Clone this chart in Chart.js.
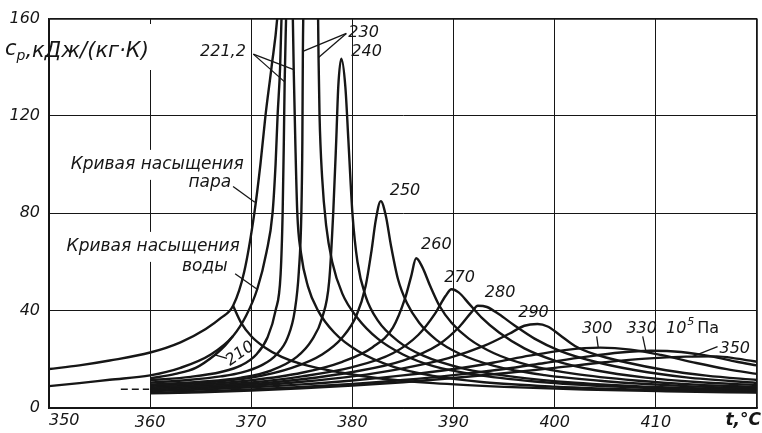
<!DOCTYPE html>
<html lang="ru">
<head>
<meta charset="UTF-8">
<title>Теплоёмкость воды и пара в околокритической области</title>
<script src="https://cdn.jsdelivr.net/npm/chart.js"></script>
<style>
  html, body { margin: 0; padding: 0; background: #fff; }
  #wrap { width: 762px; height: 433px; position: relative; }
</style>
</head>
<body>
<div id="wrap"><canvas id="cpChart"></canvas></div>
<script>
// [t, °C ; cp, кДж/(кг·К)]
const satVapour = [[350,16],[353,17.5],[356,19.5],[360,22.8],[363,27],[365.5,32.5],[367,37],[368.2,42],[369.3,56],[370.3,80],[370.9,100],[371.4,120],[372,140],[372.6,162],[372.9,185]];
const satWater = [[350,9],[353,10.2],[356,11.6],[360,13.4],[363,16.5],[366,22],[368.2,29.6],[369.5,38],[370.6,49],[371.5,64],[372.1,80],[372.4,100],[372.6,120],[372.85,140],[373.0,162],[373.1,185]];
const p210water = [[360,12.2],[362.5,14],[364.5,16.5],[366.4,21.8],[367.4,25.6],[368.2,29.6]];
const p210vapour = [[368.2,42],[369,35],[370,29.5],[371.3,25],[373,21],[375,18],[378.8,14.6],[383,12],[388,10.2],[395,8.7],[403,7.6],[411,6.9],[420,6.3]];
const p221 = [[360,11.4],[364,12.8],[367,14.8],[369,17.5],[370.5,22],[371.6,29],[372.4,40],[372.9,55],[373.1,80],[373.22,110],[373.3,134],[373.45,162],[373.6,190],
              [374.0,190],[374.1,162],[374.2,138],[374.35,110],[374.55,80],[374.9,64],[375.6,50],[376.6,40],[378.2,31],[380.5,23.5],[384,17],[388,13.2],[393,10.6],[400,8.8],[410,7.4],[420,6.6]];
const p230 = [[360,10.4],[364,11.6],[367,13],[369,14.5],[371,17.5],[372.5,22],[373.6,29],[374.3,40],[374.7,56],[374.95,80],[375.05,110],[375.1,146],[375.2,175],[375.3,190],
              [376.5,190],[376.6,162],[376.65,144],[376.75,120],[377.0,95],[377.4,75],[378,60],[379,47],[380.5,37],[382.5,28.5],[385,22],[388,17.2],[392,13.8],[398,10.9],[405,9],[412,7.8],[420,7.0]];
const p240 = [[360,9.6],[365,10.8],[369,12.5],[372,15.5],[374.5,21],[376,28],[377,37],[377.7,52],[378.1,80],[378.4,110],[378.6,132],[378.9,143.5],
              [379.3,132],[379.6,110],[380.0,80],[380.5,60],[381.3,46],[382.5,36],[384.5,27.5],[387,21.5],[391,16.2],[396,12.8],[402,10.4],[410,8.6],[420,7.5]];
const p250 = [[360,9],[365,10.3],[370,12.5],[374,16.5],[377,22],[379,29],[380.4,38],[381.3,50],[381.9,65],[382.3,77],[382.8,85],
              [383.3,79],[383.8,67],[384.5,53],[385.4,43],[386.6,35],[388.3,28],[390.5,22.5],[394,17.3],[399,13.5],[405,11],[412,9.2],[420,8.0]];
const p260 = [[360,8.4],[365,9.6],[370,11.4],[375,14.5],[379,19],[382,25],[384,33],[385.2,45],[385.8,54],[386.3,61.5],
              [386.9,58],[387.7,50],[388.6,42],[389.8,35],[391.5,28.5],[394,22.5],[397.5,17.5],[402,14],[408,11.3],[414,9.6],[420,8.6]];
const p270 = [[360,8],[365,9],[370,10.5],[375,13],[380,16.8],[384,22.5],[386.5,30],[388.2,39],[389.2,46],[389.8,48.8],
              [390.5,47.5],[391.5,43],[392.8,37],[394.5,31],[397,24.5],[400,19.5],[404,15.5],[409,12.5],[414,10.7],[420,9.4]];
const p280 = [[360,7.6],[365,8.5],[370,9.8],[375,11.8],[380,14.8],[385,19.5],[388.5,26],[390.6,33.5],[391.8,39.5],[392.4,42],
              [393.3,41.5],[394.5,38.5],[396,34],[398,28.5],[400.5,23.5],[404,19],[408,15.5],[413,12.6],[420,10.3]];
const p290 = [[360,7.2],[365,8],[370,9.2],[375,10.8],[380,13],[385,16.3],[389.5,20.5],[393,25.5],[395.5,30.5],[397,33.8],[398.3,34.5],
              [399.3,33.5],[400.5,30],[402,25.5],[404,22],[407,18.8],[411,15.5],[415,13.3],[420,11.5]];
const p300 = [[360,6.9],[365,7.6],[370,8.5],[375,9.7],[380,11.3],[385,13.4],[390,16],[394,18.7],[397.5,21.5],[401,23.8],[404.5,24.8],
              [407.5,24],[410.5,21.8],[414,18.5],[417,16],[420,14]];
const p330 = [[360,6.2],[365,6.8],[370,7.6],[375,8.6],[380,9.9],[385,11.5],[390,13.5],[395,16],[399,18.5],[403,21],[406.5,22.8],[409.5,23.5],
              [412.5,23],[415.5,21.2],[418,19],[420,17.5]];
const p350 = [[360,6.0],[365,6.5],[370,7.2],[375,8.1],[380,9.2],[385,10.6],[390,12.3],[395,14.3],[400,16.5],[405,18.8],[409,20.3],[413,21.1],[416,21.2],
              [418,20.3],[420,19]];
const dashStub = [[357.1,7.7],[359.9,7.7]];

const xTicks = [350, 360, 370, 380, 390, 400, 410, 420];
const yTicks = [0, 40, 80, 120, 160];

const ink = '#161616';
const FONT = '"DejaVu Sans", sans-serif';

const curves = [satVapour, satWater, p210water, p210vapour, p221, p230, p240, p250, p260, p270, p280, p290, p300, p330, p350];

const datasets = curves.map(pts => ({
  data: pts.map(([x, y]) => ({ x, y })),
  borderColor: ink,
  borderWidth: 2.4,
  pointRadius: 0,
  fill: false,
  cubicInterpolationMode: 'monotone'
}));
datasets.push({
  data: dashStub.map(([x, y]) => ({ x, y })),
  borderColor: ink,
  borderWidth: 1.6,
  borderDash: [7, 4],
  pointRadius: 0,
  fill: false
});

// подписи кривых (координаты в единицах осей)
const notes = [
  { text: '221,2', at: [367.2, 146.2] },
  { text: '230', at: [381.1, 154.3] },
  { text: '240', at: [381.4, 146.2] },
  { text: '250', at: [385.2, 89.3] },
  { text: '260', at: [388.3, 67] },
  { text: '270', at: [390.6, 53.6] },
  { text: '280', at: [394.6, 47.5] },
  { text: '290', at: [397.9, 39] },
  { text: '300', at: [404.2, 32.5] },
  { text: '330', at: [408.6, 32.5] },
  { text: '350', at: [417.8, 24.4] },
  { text: '210', at: [368.9, 22.3], rot: -35 },
  { text: 'Кривая насыщения', at: [360.7, 99.9], big: true, mask: true },
  { text: 'пара', at: [365.9, 92.6], big: true, mask: true },
  { text: 'Кривая насыщения', at: [360.3, 66.2], big: true, mask: true },
  { text: 'воды', at: [365.4, 58.1], big: true, mask: true }
];

const leaders = [
  [[370.2, 145.4], [373.3, 134]],
  [[370.2, 145.4], [374.2, 139]],
  [[379.4, 153.9], [375.1, 146.5]],
  [[379.4, 153.9], [376.65, 144]],
  [[404.15, 29.4], [404.3, 24.9]],
  [[408.7, 29.4], [409.0, 23.6]],
  [[416.1, 25.2], [413.6, 21.1]],
  [[367.6, 20.4], [366.4, 21.8]],
  [[368.2, 91], [370.35, 84.5]],
  [[368.4, 55.2], [370.65, 48.6]]
];

function noteFont(n) {
  return n.big ? 'italic 17px ' + FONT : 'italic 16px ' + FONT;
}

const notesPlugin = {
  id: 'notes',
  beforeDatasetsDraw(chart) {
    const { ctx, scales: { x, y } } = chart;
    ctx.save();
    ctx.fillStyle = '#fff';
    notes.filter(n => n.mask).forEach(n => {
      ctx.font = noteFont(n);
      const w = ctx.measureText(n.text).width;
      const px = x.getPixelForValue(n.at[0]);
      const py = y.getPixelForValue(n.at[1]);
      ctx.fillRect(px - w / 2 - 2, py - 15, w + 4, 30);
    });
    // разрыв сетки под обозначением оси
    ctx.fillRect(60, 24, 110, 46);
    ctx.restore();
  },
  afterDatasetsDraw(chart) {
    const { ctx, scales: { x, y }, chartArea } = chart;
    ctx.save();
    ctx.strokeStyle = ink;
    ctx.fillStyle = ink;
    ctx.lineWidth = 1.3;
    leaders.forEach(([a, b]) => {
      ctx.beginPath();
      ctx.moveTo(x.getPixelForValue(a[0]), y.getPixelForValue(a[1]));
      ctx.lineTo(x.getPixelForValue(b[0]), y.getPixelForValue(b[1]));
      ctx.stroke();
    });

    ctx.textAlign = 'center';
    ctx.textBaseline = 'middle';
    notes.forEach(n => {
      ctx.font = noteFont(n);
      const px = x.getPixelForValue(n.at[0]);
      const py = y.getPixelForValue(n.at[1]);
      ctx.save();
      ctx.translate(px, py);
      if (n.rot) ctx.rotate(n.rot * Math.PI / 180);
      ctx.fillText(n.text, 0, 0);
      ctx.restore();
    });

    // единица давления после «330»
    ctx.textAlign = 'left';
    ctx.font = 'italic 16px ' + FONT;
    let ux = x.getPixelForValue(411.0);
    const uy = y.getPixelForValue(32.5);
    ctx.fillText('10', ux, uy);
    ux += ctx.measureText('10').width + 1;
    ctx.font = 'italic 11px ' + FONT;
    ctx.fillText('5', ux, uy - 7);
    ux += ctx.measureText('5').width + 3;
    ctx.font = '16px ' + FONT;
    ctx.fillText('Па', ux, uy);

    // обозначение оси ординат
    ctx.textBaseline = 'alphabetic';
    let tx = 5;
    ctx.font = 'italic 21px ' + FONT;
    ctx.fillText('c', tx, 55);
    tx += ctx.measureText('c').width;
    ctx.font = 'italic 14px ' + FONT;
    ctx.fillText('p', tx, 60);
    tx += ctx.measureText('p').width;
    ctx.font = 'italic 21px ' + FONT;
    ctx.fillText(',кДж/(кг·К)', tx, 57);

    // крайние подписи оси абсцисс
    ctx.font = 'italic 16px ' + FONT;
    ctx.textBaseline = 'top';
    ctx.textAlign = 'left';
    ctx.fillText('350', x.getPixelForValue(350), chartArea.bottom + 5);
    ctx.textAlign = 'right';
    ctx.font = 'italic bold 17px ' + FONT;
    ctx.fillText('t,°C', 761, chartArea.bottom + 4);
    ctx.restore();
  }
};

Chart.defaults.color = ink;

new Chart(document.getElementById('cpChart'), {
  type: 'line',
  data: { datasets },
  options: {
    responsive: true,
    maintainAspectRatio: false,
    animation: false,
    layout: { padding: { top: 14, right: 5, left: 0, bottom: 0 } },
    plugins: { legend: { display: false }, tooltip: { enabled: false } },
    scales: {
      x: {
        type: 'linear',
        min: xTicks[0],
        max: xTicks[xTicks.length - 1],
        afterFit(scale) { scale.height = 25; },
        afterBuildTicks(scale) { scale.ticks = xTicks.map(v => ({ value: v })); },
        ticks: {
          font: { family: FONT, size: 16, style: 'italic' },
          padding: 5,
          maxRotation: 0,
          callback: v => (v === 350 || v === 420) ? '' : String(v)
        },
        grid: {
          color: ink,
          lineWidth: c => (c.tick && c.tick.value === 420) ? 1.8 : 1,
          drawTicks: false
        },
        border: { color: ink, width: 1.8 }
      },
      y: {
        min: yTicks[0],
        max: yTicks[yTicks.length - 1],
        afterFit(scale) { scale.width = 49; },
        afterBuildTicks(scale) { scale.ticks = yTicks.map(v => ({ value: v })); },
        ticks: {
          font: { family: FONT, size: 16, style: 'italic' },
          padding: 9
        },
        grid: {
          color: ink,
          lineWidth: c => (c.tick && c.tick.value === 160) ? 1.8 : 1,
          drawTicks: false
        },
        border: { color: ink, width: 1.8 }
      }
    }
  },
  plugins: [notesPlugin]
});
</script>
</body>
</html>
